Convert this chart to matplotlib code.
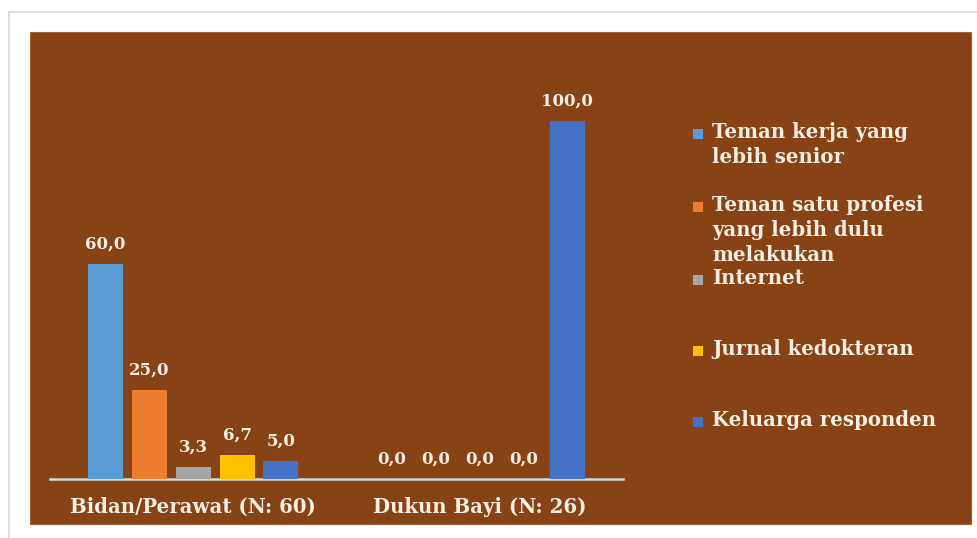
import matplotlib
matplotlib.use("Agg")
import matplotlib.pyplot as plt
from matplotlib.patches import Rectangle
import numpy as np

# Data
groups = ["Bidan/Perawat (N: 60)", "Dukun Bayi (N: 26)"]
series = [
    "Teman kerja yang\nlebih senior",
    "Teman satu profesi\nyang lebih dulu\nmelakukan",
    "Internet",
    "Jurnal kedokteran",
    "Keluarga responden",
]
values = [
    [60.0, 0.0],
    [25.0, 0.0],
    [3.3, 0.0],
    [6.7, 0.0],
    [5.0, 100.0],
]
colors = ["#5B9BD5", "#ED7D31", "#A5A5A5", "#FFC000", "#4472C4"]

W, H = 977, 538
fig = plt.figure(figsize=(W / 100, H / 100), dpi=100)
fig.patch.set_facecolor("white")

def fx(px):
    return px / W

def fy(py):
    return 1 - py / H

FONT = "DejaVu Serif"
TXT = "#F7EEE2"
BG = "#874316"

# outer frame and brown panel
fig.patches.append(Rectangle((fx(9), fy(560)), fx(1000) - fx(9), fy(12) - fy(560),
                             transform=fig.transFigure, facecolor="#FFFFFF",
                             edgecolor="#D8D8D8", lw=1.2, zorder=0))
fig.patches.append(Rectangle((fx(30), fy(524)), fx(971) - fx(30), fy(32) - fy(524),
                             transform=fig.transFigure, facecolor=BG,
                             edgecolor="#A0623A", lw=0.8, zorder=1))

ax = fig.add_axes([fx(50), fy(479), fx(623) - fx(50), fy(100) - fy(479)])
ax.set_facecolor("none")
ax.set_zorder(2)

n = len(series)
bw = 0.122
step = 0.153
x = np.arange(len(groups))
for i, (name, vals, c) in enumerate(zip(series, values, colors)):
    off = (i - (n - 1) / 2) * step
    bars = ax.bar(x + off, vals, width=bw, color=c, label=name, zorder=3)
    ax.bar_label(bars, labels=[f"{v:.1f}".replace(".", ",") for v in vals],
                 padding=8, color=TXT, fontsize=12, fontweight="bold",
                 fontfamily=FONT)

ax.set_xlim(-0.5, 1.5)
ax.set_ylim(0, 379 / 3.58)
ax.set_xticks(x)
ax.set_xticklabels(groups, fontsize=14.2, fontweight="bold", fontfamily=FONT,
                   color=TXT)
ax.tick_params(axis="x", length=0, pad=13)
ax.set_yticks([])
for s in ["top", "left", "right"]:
    ax.spines[s].set_visible(False)
ax.spines["bottom"].set_color("#D9D9D9")
ax.spines["bottom"].set_linewidth(1.8)

# legend entries
leg_y = [134, 207, 280, 351, 422]
for name, c, yy in zip(series, colors, leg_y):
    fig.patches.append(Rectangle((fx(693), fy(yy + 5)), fx(10), fy(0) - fy(10),
                                 transform=fig.transFigure, facecolor=c,
                                 edgecolor="none", zorder=3))
    fig.text(fx(712), fy(yy - 12), name, ha="left", va="top", color=TXT,
             fontsize=14.2, fontweight="bold", fontfamily=FONT,
             linespacing=1.3, zorder=4)

fig.savefig("out.png", dpi=100, facecolor="white")
